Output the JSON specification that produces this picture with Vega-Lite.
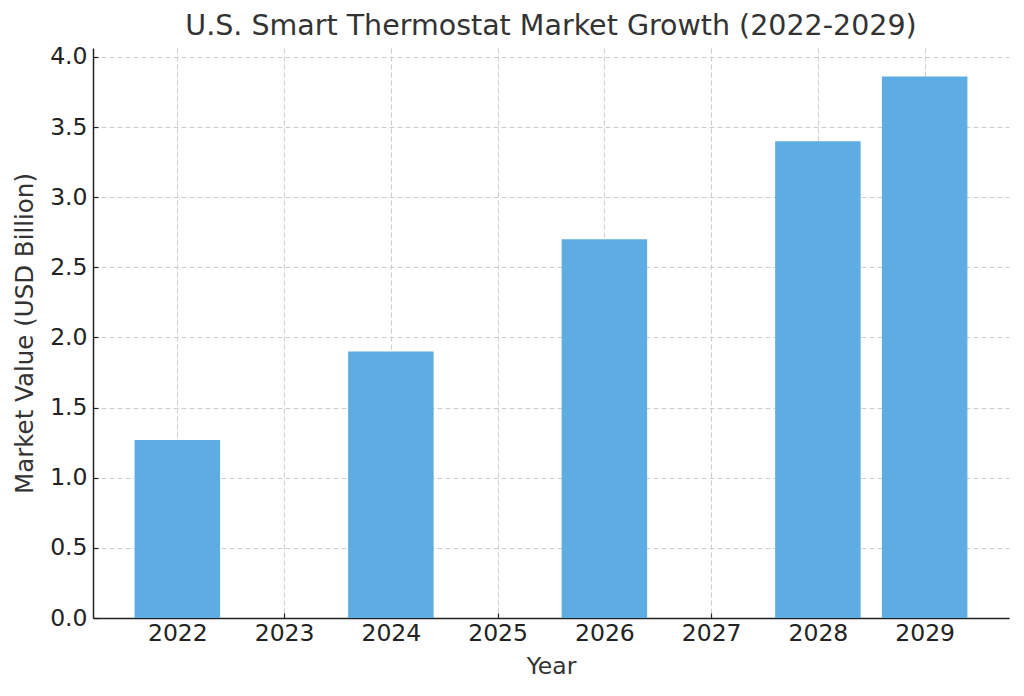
{
  "$schema": "https://vega.github.io/schema/vega-lite/v6.json",
  "width": 916,
  "height": 570,
  "autosize": {"type": "none"},
  "padding": {"left": 93, "top": 48, "right": 15, "bottom": 78},
  "background": "white",
  "title": {
    "text": "U.S. Smart Thermostat Market Growth (2022-2029)",
    "font": "DejaVu Sans",
    "fontSize": 28.5,
    "fontWeight": "normal",
    "color": "#333333",
    "offset": 4,
    "anchor": "middle"
  },
  "config": {
    "view": {"stroke": null},
    "axis": {
      "labelFont": "DejaVu Sans",
      "titleFont": "DejaVu Sans",
      "labelFontSize": 23.5,
      "titleFontSize": 23.5,
      "labelColor": "#222222",
      "titleColor": "#333333",
      "titleFontWeight": "normal",
      "domainColor": "#222222",
      "domainWidth": 1.5,
      "tickColor": "#222222",
      "tickWidth": 1.2,
      "gridColor": "#cccccc",
      "gridDash": [5, 3],
      "gridWidth": 1
    }
  },
  "data": {
    "values": [
      {"Year": 2022, "Value": 1.27},
      {"Year": 2024, "Value": 1.90},
      {"Year": 2026, "Value": 2.70},
      {"Year": 2028, "Value": 3.40},
      {"Year": 2029, "Value": 3.86}
    ]
  },
  "mark": {"type": "bar", "color": "#5DADE2", "size": 85.5},
  "encoding": {
    "x": {
      "field": "Year",
      "type": "quantitative",
      "scale": {"domain": [2021.21, 2029.79], "nice": false, "zero": false, "padding": 0},
      "axis": {
        "values": [2022, 2023, 2024, 2025, 2026, 2027, 2028, 2029],
        "format": "d",
        "title": "Year",
        "tickSize": -5,
        "labelPadding": 8,
        "titlePadding": 10
      }
    },
    "y": {
      "field": "Value",
      "type": "quantitative",
      "scale": {"domain": [0, 4.064], "nice": false},
      "axis": {
        "values": [0, 0.5, 1, 1.5, 2, 2.5, 3, 3.5, 4],
        "format": ".1f",
        "title": "Market Value (USD Billion)",
        "titleFontSize": 24.5,
        "tickSize": -5,
        "labelPadding": 11,
        "titlePadding": 12
      }
    }
  }
}
